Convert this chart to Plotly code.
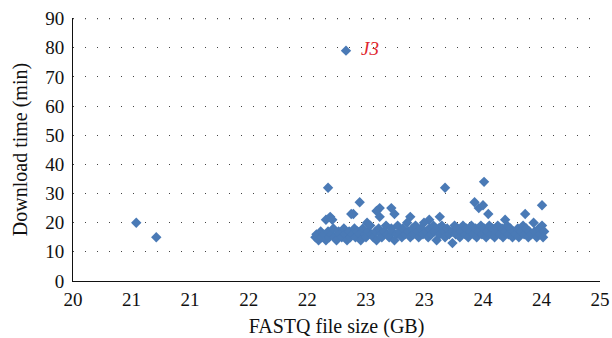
import plotly.graph_objects as go

# FASTQ file size (GB) and download time (min)
x_size = [
    20.60, 20.79, 22.59,
    22.42, 22.40, 22.44, 22.46, 22.72, 22.66, 22.64, 22.79, 22.91, 22.88, 22.91,
    23.02, 23.05, 23.20, 23.38, 23.48, 23.53, 23.81, 23.85, 23.89, 23.90, 23.94,
    24.10, 24.29, 24.45, 23.60,
    22.30, 22.31, 22.33, 22.35, 22.36, 22.38, 22.40, 22.42, 22.43, 22.45, 22.47,
    22.48, 22.50, 22.52, 22.53, 22.55, 22.57, 22.58, 22.60, 22.62, 22.63, 22.65,
    22.67, 22.68, 22.70, 22.72, 22.73, 22.75, 22.77, 22.78, 22.80, 22.82, 22.83,
    22.85, 22.87, 22.88, 22.90, 22.92, 22.93, 22.95, 22.97, 22.98, 23.00, 23.02,
    23.03, 23.05, 23.07, 23.08, 23.10, 23.12, 23.13, 23.15, 23.17, 23.18, 23.20,
    23.22, 23.23, 23.25, 23.27, 23.28, 23.30, 23.32, 23.33, 23.35, 23.37, 23.38,
    23.40, 23.42, 23.43, 23.45, 23.47, 23.48, 23.50, 23.52, 23.53, 23.55, 23.57,
    23.60, 23.62, 23.63, 23.65, 23.67, 23.68, 23.70, 23.72, 23.73, 23.75, 23.77,
    23.78, 23.80, 23.82, 23.83, 23.85, 23.87, 23.88, 23.90, 23.92, 23.93, 23.95,
    23.97, 23.98, 24.00, 24.02, 24.03, 24.05, 24.07, 24.08, 24.10, 24.12, 24.13,
    24.15, 24.17, 24.18, 24.20, 24.22, 24.23, 24.25, 24.27, 24.28, 24.30, 24.32,
    24.33, 24.35, 24.37, 24.38, 24.40, 24.42, 24.43, 24.45, 24.47, 24.46,
]
y_time = [
    20, 15, 79,
    32, 21, 22, 21, 27, 23, 23, 20, 25, 24, 22,
    25, 23, 22, 21, 22, 32, 27, 25, 26, 34, 23,
    21, 23, 26, 13,
    15, 16, 14, 17, 15, 16, 14, 17, 15, 16, 18,
    15, 14, 17, 16, 15, 18, 16, 14, 17, 15, 16,
    18, 15, 17, 16, 14, 18, 16, 15, 17, 19, 16,
    15, 17, 14, 18, 16, 15, 17, 19, 16, 15, 18,
    17, 14, 16, 19, 17, 15, 18, 16, 20, 17, 15,
    18, 16, 19, 17, 15, 18, 16, 20, 17, 15, 18,
    16, 19, 17, 14, 18, 16, 19, 17, 15, 18, 16,
    17, 19, 16, 18, 15, 17, 19, 16, 18, 15, 17,
    19, 16, 18, 15, 17, 19, 16, 18, 15, 17, 19,
    16, 18, 15, 17, 19, 16, 18, 15, 17, 19, 16,
    18, 15, 17, 16, 18, 15, 17, 19, 16, 18, 15,
    17, 16, 20, 17, 15, 18, 16, 19, 17, 15,
]

x_tick_text = ["20", "21", "21", "22", "22", "23", "23", "24", "24", "25"]
y_tick_vals = [0, 10, 20, 30, 40, 50, 60, 70, 80, 90]

label_text = "J3"
label_x = 22.59
label_y = 79

x_tick_vals = [20 + i * 5 / 9 for i in range(len(x_tick_text))]

SERIF = "Liberation Serif, Times New Roman, serif"
GRID_COLOR = "#444"
GRID_DASH = "1px,11px"

fig = go.Figure()
fig.add_trace(go.Scatter(
    x=x_size, y=y_time, mode="markers",
    marker=dict(symbol="diamond", size=8, color="#4a7ab6", line=dict(width=0)),
    hoverinfo="x+y", showlegend=False,
))

fig.add_annotation(
    x=label_x, y=label_y, text="<i>" + label_text + "</i>", showarrow=False,
    xanchor="left", yanchor="middle", xshift=13, yshift=2,
    font=dict(family=SERIF, size=19, color="#e0262e"),
)

# top gridline (at the upper edge of the plot, which plotly omits)
fig.add_shape(
    type="line", xref="paper", yref="y", x0=0, x1=1,
    y0=y_tick_vals[-1], y1=y_tick_vals[-1], layer="below",
    line=dict(color=GRID_COLOR, width=1.3, dash=GRID_DASH),
)

fig.update_layout(
    width=612, height=338,
    margin=dict(l=73, r=12, t=18, b=57, autoexpand=False),
    paper_bgcolor="white", plot_bgcolor="white",
    font=dict(family=SERIF, size=19, color="#111"),
    xaxis=dict(
        range=[20, 25], tickvals=x_tick_vals, ticktext=x_tick_text,
        showgrid=False, zeroline=False, showline=True, linecolor="#111", linewidth=1,
        ticks="", tickfont=dict(size=19), automargin=False, ticklabelstandoff=1,
        ticklabeloverflow="allow",
        title=dict(text="FASTQ file size (GB)", font=dict(size=20), standoff=10),
    ),
    yaxis=dict(
        range=[0, 90.2], tickvals=y_tick_vals,
        showgrid=True, gridcolor=GRID_COLOR, griddash=GRID_DASH, gridwidth=1.3,
        zeroline=False, showline=True, linecolor="#111", linewidth=1,
        ticks="", tickfont=dict(size=19), automargin=False, ticklabelstandoff=4,
        ticklabeloverflow="allow",
        title=dict(text="Download time (min)", font=dict(size=20), standoff=12),
    ),
)

fig.write_html(
    "out.html",
    config={"displayModeBar": False},
    post_script="document.body.style.margin='0';document.body.style.overflow='hidden';",
)
